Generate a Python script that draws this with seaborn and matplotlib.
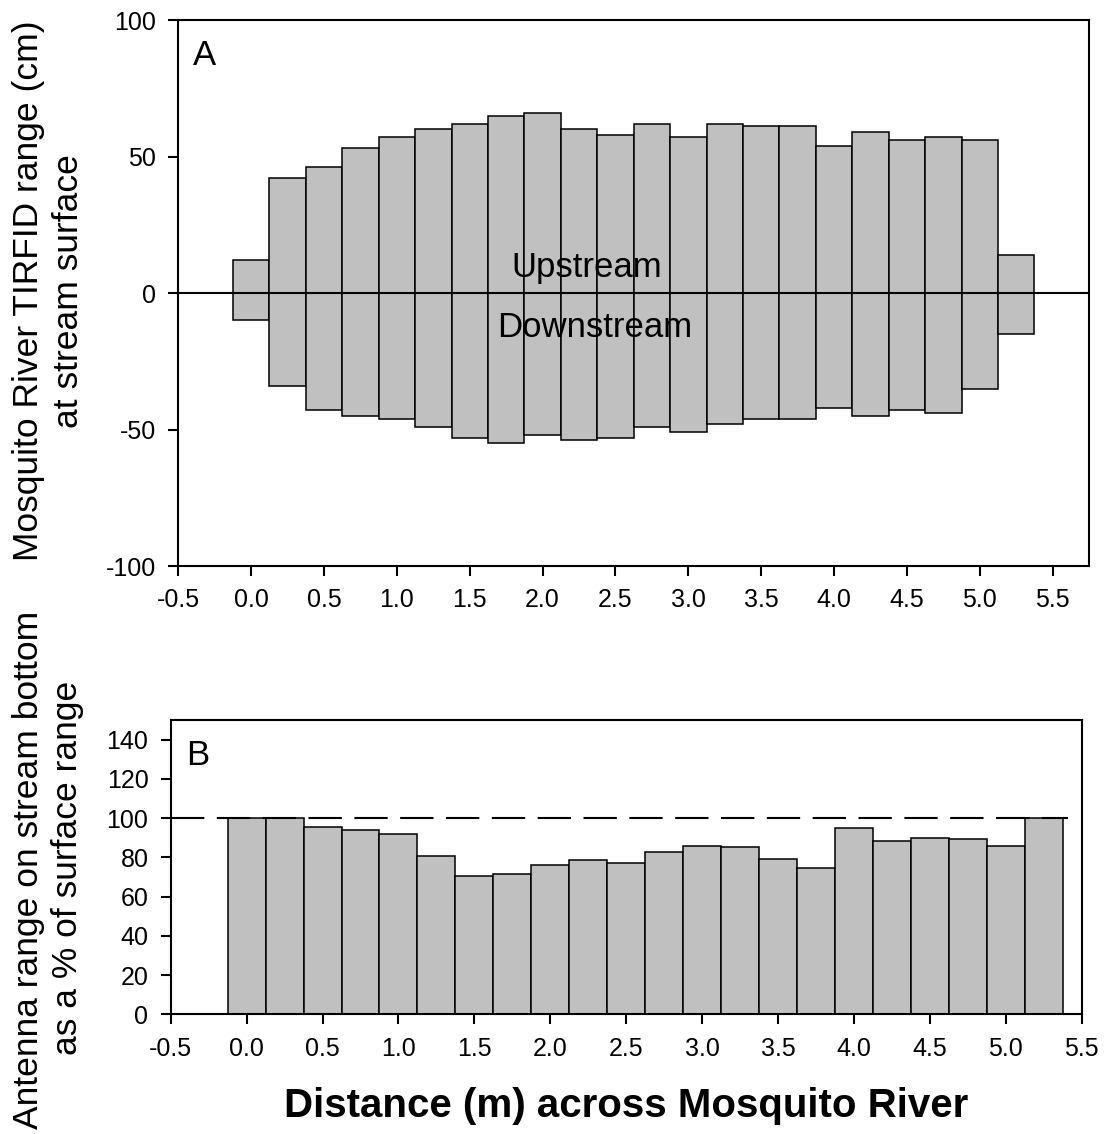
import matplotlib
matplotlib.use("Agg")
import matplotlib.pyplot as plt
import seaborn as sns
import numpy as np

# Distance of each measurement cell across the river (m)
distance = [0.0, 0.25, 0.5, 0.75, 1.0, 1.25, 1.5, 1.75, 2.0, 2.25, 2.5,
            2.75, 3.0, 3.25, 3.5, 3.75, 4.0, 4.25, 4.5, 4.75, 5.0, 5.25]

# TIRFID read range at the stream surface (cm)
upstream = [12, 42, 46, 53, 57, 60, 62, 65, 66, 60, 58,
            62, 57, 62, 61, 61, 54, 59, 56, 57, 56, 14]
downstream = [-10, -34, -43, -45, -46, -49, -53, -55, -52, -54, -53,
              -49, -51, -48, -46, -46, -42, -45, -43, -44, -35, -15]

# Antenna range on the stream bottom as a percentage of the surface range
bottom_pct = [100, 100, 95.4, 93.9, 92.1, 80.7, 70.3, 71.7, 76.3, 78.6, 77.3,
              82.9, 86.0, 85.4, 79.2, 74.8, 94.9, 88.3, 90.0, 89.2, 85.6, 100]

x_ticks = [-0.5, 0.0, 0.5, 1.0, 1.5, 2.0, 2.5, 3.0, 3.5, 4.0, 4.5, 5.0, 5.5]
x_tick_labels = ["-0.5", "0.0", "0.5", "1.0", "1.5", "2.0", "2.5",
                 "3.0", "3.5", "4.0", "4.5", "5.0", "5.5"]
a_ticks = [-100, -50, 0, 50, 100]
b_ticks = [0, 20, 40, 60, 80, 100, 120, 140]

sns.set_style("white")
plt.rcParams["font.family"] = ["Liberation Sans", "DejaVu Sans"]
plt.rcParams["axes.linewidth"] = 1.5
for key in ("text.color", "axes.labelcolor", "xtick.color", "ytick.color",
            "axes.edgecolor"):
    plt.rcParams[key] = "black"

W, H = 1105, 1134
fig = plt.figure(figsize=(W / 100, H / 100), dpi=100)


def px_axes(left, top, right, bottom):
    return fig.add_axes([left / W, 1 - bottom / H, (right - left) / W, (bottom - top) / H])


bar_kw = dict(native_scale=True, width=1.0, color="#c0c0c0", saturation=1,
              edgecolor="black", linewidth=1.1, errorbar=None)

tick_fs = 18
label_fs = 25.5
mark_fs = 25

# Panel A: surface read range, upstream above and downstream below the antenna
axA = px_axes(178.3, 20, 1089, 566)
sns.barplot(x=distance, y=upstream, ax=axA, **bar_kw)
sns.barplot(x=distance, y=downstream, ax=axA, **bar_kw)
axA.axhline(0, color="black", lw=1.5, zorder=5)
axA.set_xlim(-0.5, 5.75)
axA.set_ylim(-100, 100)
axA.set_xticks(x_ticks)
axA.set_xticklabels(x_tick_labels)
axA.set_yticks(a_ticks)
axA.set_yticklabels([str(t) for t in a_ticks])
axA.text(0.016, 0.965, "A", transform=axA.transAxes, fontsize=mark_fs, ha="left", va="top")
axA.text(2.30, 9.5, "Upstream", fontsize=mark_fs, ha="center", va="center", zorder=6)
axA.text(2.36, -12.5, "Downstream", fontsize=mark_fs, ha="center", va="center", zorder=6)

# Panel B: bottom range relative to the surface range
axB = px_axes(170.7, 720, 1081.7, 1014.3)
sns.barplot(x=distance, y=bottom_pct, ax=axB, **bar_kw)
axB.plot([-0.5, 5.41], [100, 100], color="black", lw=1.5,
         linestyle=(0, (16, 6)), zorder=5, clip_on=False)
axB.set_xlim(-0.5, 5.5)
axB.set_ylim(0, 150)
axB.set_xticks(x_ticks)
axB.set_xticklabels(x_tick_labels)
axB.set_yticks(b_ticks)
axB.set_yticklabels([str(t) for t in b_ticks])
axB.text(0.017, 0.935, "B", transform=axB.transAxes, fontsize=mark_fs, ha="left", va="top")

for ax in (axA, axB):
    ax.set_xlabel("")
    ax.set_ylabel("")
    for s in ax.spines.values():
        s.set_visible(True)
        s.set_color("black")
        s.set_linewidth(1.5)
    ax.tick_params(axis="both", direction="out", length=7, width=1.5,
                   labelsize=tick_fs, pad=9, bottom=True, left=True,
                   top=False, right=False, colors="black")

# Axis titles
fig.text(29 / W, 1 - 291 / H, "Mosquito River TIRFID range (cm)", rotation=90,
         fontsize=label_fs, ha="center", va="center")
fig.text(68 / W, 1 - 291 / H, "at stream surface", rotation=90,
         fontsize=label_fs, ha="center", va="center")
fig.text(29 / W, 1 - 870 / H, "Antenna range on stream bottom", rotation=90,
         fontsize=label_fs, ha="center", va="center")
fig.text(68 / W, 1 - 868 / H, "as a % of surface range", rotation=90,
         fontsize=label_fs, ha="center", va="center")
fig.text(626 / W, 1 - 1106 / H, "Distance (m) across Mosquito River",
         fontsize=29, fontweight="bold", ha="center", va="center")

fig.savefig("out.png", dpi=100, facecolor="white")
